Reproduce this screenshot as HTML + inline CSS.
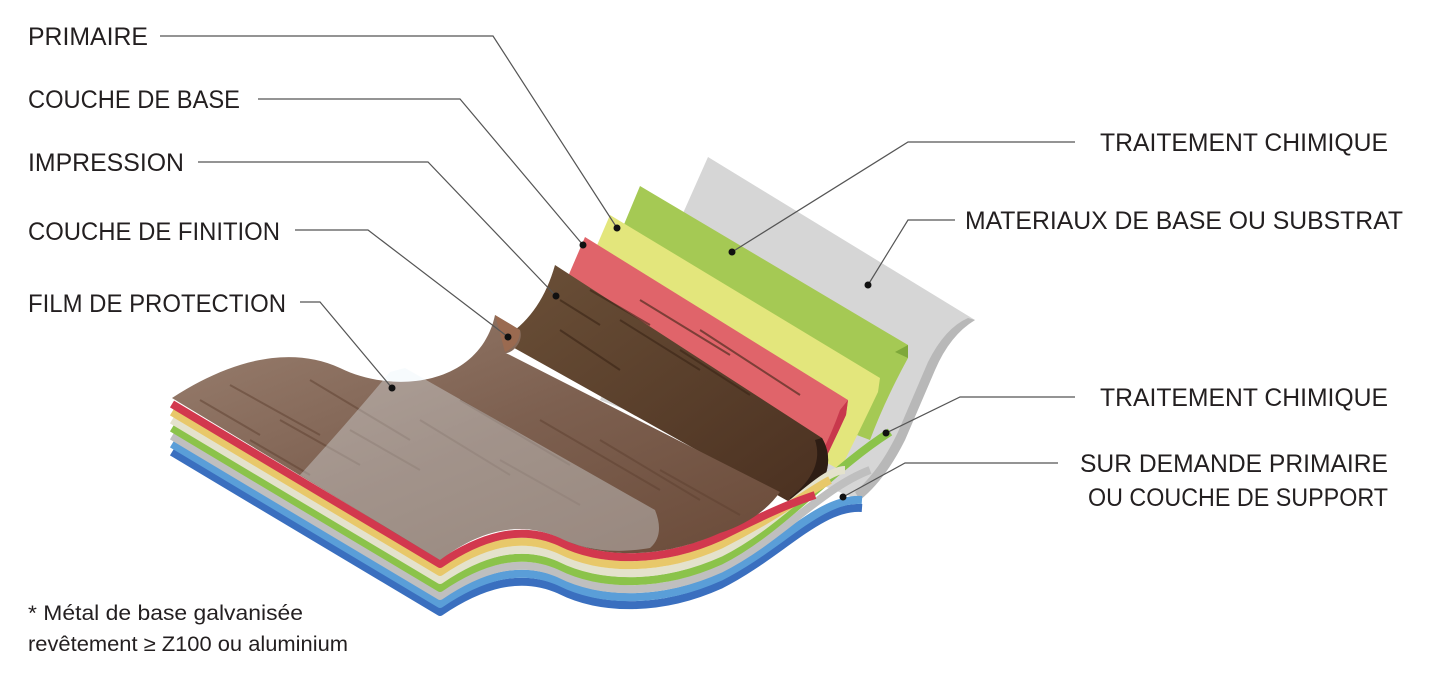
<!DOCTYPE html>
<html><head><meta charset="utf-8"><style>
html,body{margin:0;padding:0;background:#fff;}
svg{display:block}
text{font-family:"Liberation Sans Narrow","Liberation Sans",sans-serif;fill:#231f20}
</style></head><body>
<svg width="1438" height="678" viewBox="0 0 1438 678" xmlns="http://www.w3.org/2000/svg">
<defs>
<linearGradient id="wood" x1="0" y1="0" x2="1" y2="1">
<stop offset="0" stop-color="#9a8070"/><stop offset="0.5" stop-color="#7d6050"/><stop offset="1" stop-color="#6a4a38"/>
</linearGradient>
<linearGradient id="dwood" x1="0" y1="0" x2="1" y2="1">
<stop offset="0" stop-color="#6b5038"/><stop offset="1" stop-color="#4a3020"/>
</linearGradient>
</defs>
<path d="M708,157 L975,320 Q950,335 935,370 L905,440 Q885,480 860,500 L600,400 Z" fill="#d6d6d6"/>
<path d="M975,320 Q950,335 935,370 L905,440 Q885,480 860,500 L855,492 Q880,470 898,432 L928,362 Q945,328 968,318Z" fill="#b8b8b8"/>
<path d="M640,186 L908,345 L908,358 Q885,400 870,440 L580,330 Z" fill="#a5c954"/>
<path d="M908,345 L908,358 L895,352 Z" fill="#7ea83a"/>
<path d="M610,215 L880,378 L878,392 Q860,430 840,470 L565,320 Z" fill="#e3e67c"/>
<path d="M585,237 L848,400 L846,415 Q830,450 810,490 L545,330 Z" fill="#e0646a"/>
<path d="M848,400 L846,415 Q830,450 810,490 L800,492 Q825,452 840,410 Z" fill="#c8384c"/>
<path d="M555,265 L822,438 Q836,462 818,490 L795,505 L500,340 Q540,318 555,265 Z" fill="url(#dwood)"/>
<path d="M822,438 Q836,462 818,490 L795,505 L790,498 Q825,470 815,440Z" fill="#2e1d14"/>
<g stroke="#3a2416" stroke-width="2" opacity="0.6" fill="none">
<path d="M560,300 l40,25 M590,290 l60,35 M620,320 l80,50 M640,300 l90,55 M680,350 l70,45 M700,330 l100,65 M560,330 l60,40"/>
</g>
<g fill="none" stroke-linejoin="round">
<path d="M172,452 L440,612 C480,585 520,572 560,590 C600,610 660,612 720,585 C780,555 820,505 862,508" stroke="#3a6fbf" stroke-width="8"/>
<path d="M172,444 L440,604 C480,577 520,564 560,582 C600,602 660,604 720,577 C780,547 820,497 862,500" stroke="#5a9ed8" stroke-width="8"/>
<path d="M172,436 L440,596 C480,569 520,556 560,574 C600,594 660,596 720,569 C780,539 820,489 870,470" stroke="#bfbfbf" stroke-width="8"/>
<path d="M172,428 L440,588 C480,561 520,548 560,566 C600,586 660,588 720,561 C780,531 830,470 890,432" stroke="#8bc34a" stroke-width="8"/>
<path d="M172,420 L440,580 C480,553 520,540 560,558 C600,578 660,580 720,553 C780,523 820,470 845,470" stroke="#e4e2cc" stroke-width="8"/>
<path d="M172,412 L440,572 C480,545 520,532 560,550 C600,570 660,572 720,545 C780,515 810,490 830,480" stroke="#e8c86a" stroke-width="8"/>
<path d="M172,404 L440,564 C480,537 520,524 560,542 C600,562 660,564 720,537 C780,507 800,500 815,495" stroke="#d2384e" stroke-width="8"/>
</g>
<path d="M172,398 C230,360 290,345 340,368 C395,395 480,385 495,315 L520,330 C525,345 505,360 500,350 L780,492 Q760,520 720,533 C660,560 600,558 560,538 C520,520 480,530 440,560 Z" fill="url(#wood)"/>
<path d="M495,315 L520,330 Q520,345 505,352 Z" fill="#9a6a50"/>
<g stroke="#5e4030" stroke-width="2" opacity="0.5" fill="none">
<path d="M200,400 l60,35 M230,385 l90,50 M280,420 l80,45 M310,380 l100,60 M350,430 l70,40 M420,420 l90,55 M460,400 l110,65 M500,460 l80,45 M540,420 l120,70 M600,440 l100,60 M660,470 l80,45 M250,440 l60,35"/>
</g>
<path d="M390,372 L405,368 L655,510 Q665,535 650,548 C610,555 580,548 560,538 C520,520 480,530 440,560 L300,475 Q350,420 390,372 Z" fill="#e8f4f8" opacity="0.35"/>
<g stroke="#555" stroke-width="1.2" fill="none">
<path d="M160,36 H493 L617,228"/>
<path d="M258,99 H460 L583,245"/>
<path d="M198,162 H428 L556,296"/>
<path d="M295,230 H368 L508,337"/>
<path d="M300,302 H320 L392,388"/>
<path d="M1075,142 H908 L732,252"/>
<path d="M955,220 H908 L868,285"/>
<path d="M1075,397 H960 L886,433"/>
<path d="M1058,463 H905 L843,497"/>
</g>
<g fill="#111">
<circle cx="617" cy="228" r="3.5"/><circle cx="583" cy="245" r="3.5"/><circle cx="556" cy="296" r="3.5"/>
<circle cx="508" cy="337" r="3.5"/><circle cx="392" cy="388" r="3.5"/><circle cx="732" cy="252" r="3.5"/>
<circle cx="868" cy="285" r="3.5"/><circle cx="886" cy="433" r="3.5"/><circle cx="843" cy="497" r="3.5"/>
</g>
<g font-size="25">
<text x="28" y="45" textLength="120" lengthAdjust="spacingAndGlyphs">PRIMAIRE</text>
<text x="28" y="108" textLength="212" lengthAdjust="spacingAndGlyphs">COUCHE DE BASE</text>
<text x="28" y="171" textLength="156" lengthAdjust="spacingAndGlyphs">IMPRESSION</text>
<text x="28" y="240" textLength="252" lengthAdjust="spacingAndGlyphs">COUCHE DE FINITION</text>
<text x="28" y="312" textLength="258" lengthAdjust="spacingAndGlyphs">FILM DE PROTECTION</text>
<text x="1100" y="151" textLength="288" lengthAdjust="spacingAndGlyphs">TRAITEMENT CHIMIQUE</text>
<text x="965" y="229" textLength="438" lengthAdjust="spacingAndGlyphs">MATERIAUX DE BASE OU SUBSTRAT</text>
<text x="1100" y="406" textLength="288" lengthAdjust="spacingAndGlyphs">TRAITEMENT CHIMIQUE</text>
<text x="1080" y="472" textLength="308" lengthAdjust="spacingAndGlyphs">SUR DEMANDE PRIMAIRE</text>
<text x="1088" y="506" textLength="300" lengthAdjust="spacingAndGlyphs">OU COUCHE DE SUPPORT</text>
</g>
<g font-size="21">
<text x="28" y="620" textLength="275" lengthAdjust="spacingAndGlyphs">* Métal de base galvanisée</text>
<text x="28" y="651" textLength="320" lengthAdjust="spacingAndGlyphs">revêtement ≥ Z100 ou aluminium</text>
</g>
</svg>
</body></html>
